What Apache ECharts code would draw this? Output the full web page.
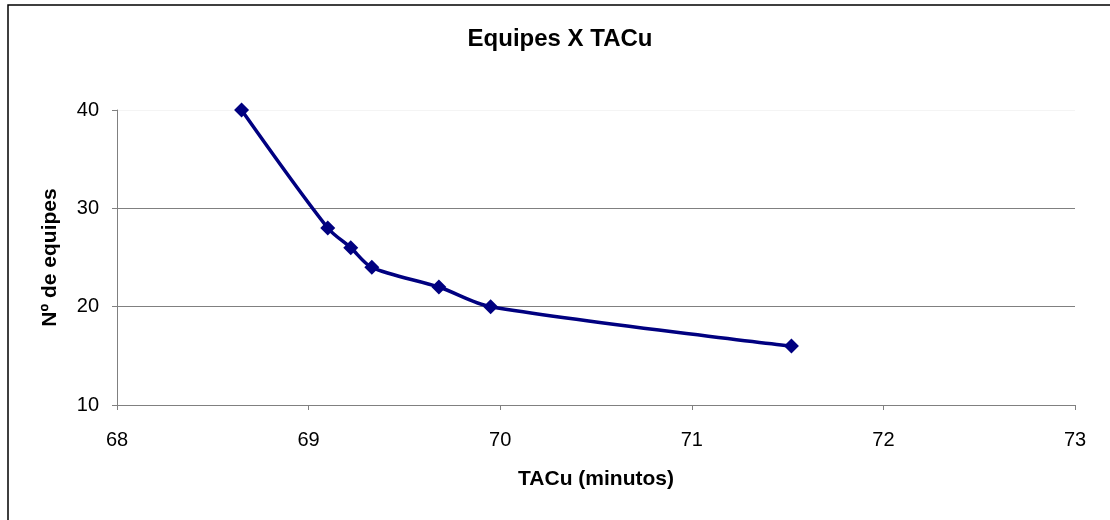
<!DOCTYPE html>
<html>
<head>
<meta charset="utf-8">
<script src="https://cdn.jsdelivr.net/npm/echarts@6/dist/echarts.min.js"></script>
<style>
html,body{margin:0;padding:0;background:#fff;}
#c{width:1110px;height:520px;}
</style>
</head>
<body>
<div id="c"></div>
<script>
const tacu = [68.65, 69.10, 69.22, 69.33, 69.68, 69.95, 71.52];
const equipes = [40, 28, 26, 24, 22, 20, 16];
const titleText = 'Equipes X TACu';
const xName = 'TACu (minutos)';
const yName = 'Nº de equipes';

const chart = echarts.init(document.getElementById('c'), null, {renderer: 'canvas'});
const font = '"Liberation Sans", Arial, sans-serif';
chart.setOption({
  backgroundColor: '#fff',
  animation: false,
  graphic: [{
    type: 'rect',
    shape: {x: 8, y: 5, width: 1110, height: 520},
    style: {fill: 'none', stroke: '#000', lineWidth: 1.5},
    silent: true
  }],
  title: {
    text: titleText,
    left: 555, top: 22, textAlign: 'center',
    textStyle: {fontFamily: font, fontWeight: 'bold', fontSize: 24, color: '#000'}
  },
  grid: {left: 117, right: 35, top: 110, bottom: 115},
  xAxis: {
    type: 'value', min: 68, max: 73, interval: 1,
    name: xName, nameLocation: 'middle', nameGap: 64,
    nameTextStyle: {fontFamily: font, fontWeight: 'bold', fontSize: 21, color: '#000'},
    axisLine: {show: true, onZero: false, lineStyle: {color: '#808080', width: 1}},
    axisTick: {show: true, length: 5, lineStyle: {color: '#808080'}},
    axisLabel: {fontFamily: font, fontSize: 20, color: '#000', margin: 25},
    splitLine: {show: false}
  },
  yAxis: {
    type: 'value', min: 10, max: 40, interval: 10,
    name: yName, nameLocation: 'middle', nameGap: 56, nameRotate: 90,
    nameTextStyle: {fontFamily: font, fontWeight: 'bold', fontSize: 21, color: '#000'},
    axisLine: {show: true, lineStyle: {color: '#808080', width: 1}},
    axisTick: {show: true, length: 5, lineStyle: {color: '#808080'}},
    axisLabel: {fontFamily: font, fontSize: 20, color: '#000', margin: 18},
    splitLine: {show: true, lineStyle: {color: ['#808080', '#808080', '#808080', '#f4f4f4'], width: 1}}
  },
  series: [{
    type: 'line',
    data: tacu.map((x, i) => [x, equipes[i]]),
    smooth: 0.3,
    symbol: 'diamond',
    symbolSize: 15,
    itemStyle: {color: '#000080'},
    lineStyle: {color: '#000080', width: 3.5}
  }]
});
</script>
</body>
</html>
